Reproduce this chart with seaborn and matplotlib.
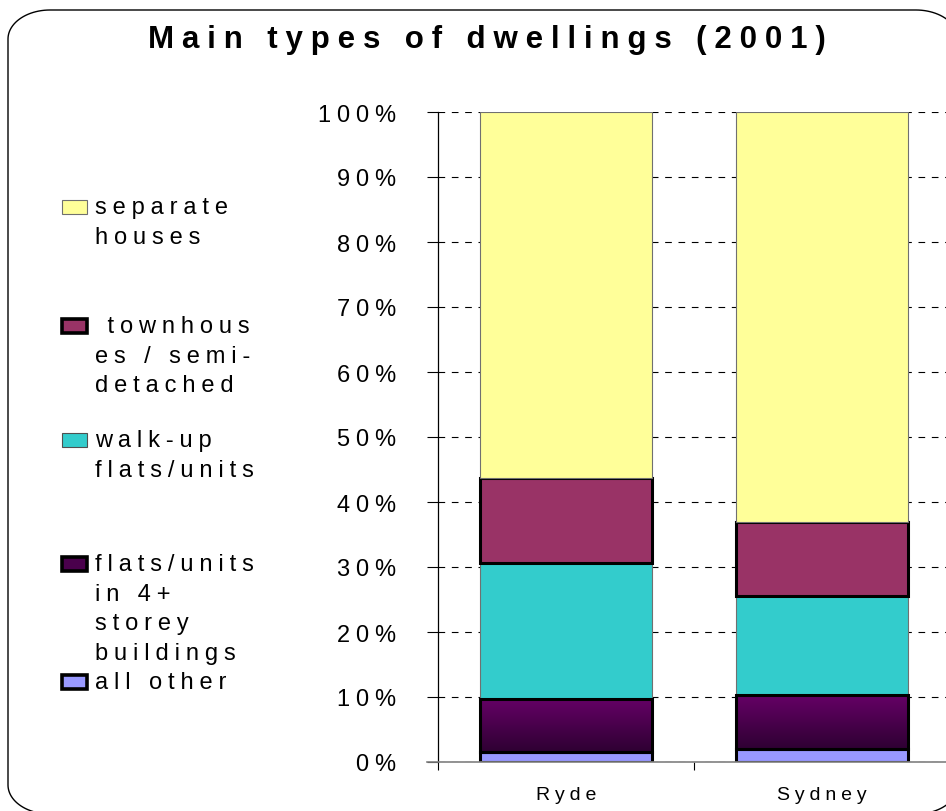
import numpy as np
import pandas as pd
import matplotlib
matplotlib.use("Agg")
import matplotlib.pyplot as plt
from matplotlib.patches import Polygon, Rectangle
from matplotlib.transforms import IdentityTransform
import seaborn as sns

# Dwelling mix, percent of all dwellings (2001)
areas = ["Ryde", "Sydney"]
separate_houses = [56.3, 63.1]
townhouses = [13.1, 11.4]
walkup_flats = [20.9, 15.2]
highrise_flats = [8.2, 8.3]
all_other = [1.5, 2.0]
ytick_values = [0, 10, 20, 30, 40, 50, 60, 70, 80, 90, 100]

sns.set_theme(style="white", rc={"text.color": "black",
                                 "xtick.color": "black",
                                 "ytick.color": "black"})
plt.rcParams["font.family"] = ["Liberation Sans", "DejaVu Sans"]

SP = "\u2005"


def spaced(s):
    """Open up character spacing the way the title and labels are set."""
    return SP.join(s)


# stacking order from the bottom up
layers = [
    ("all other", all_other, "#9999FF", "black", 2.2),
    ("flats/units in 4+ storey buildings", highrise_flats, "#4A004C", "black", 2.2),
    ("walk-up flats/units", walkup_flats, "#33CCCC", "#707070", 0.8),
    ("townhouses / semi-detached", townhouses, "#993366", "black", 2.2),
    ("separate houses", separate_houses, "#FFFF99", "#707070", 0.8),
]

frames = []
bottom = np.zeros(len(areas))
for name, vals, *_ in layers:
    frames.append(pd.DataFrame({"area": areas, "layer": name,
                                "value": vals, "bottom": bottom.copy()}))
    bottom = bottom + np.array(vals)
df = pd.concat(frames, ignore_index=True)

fig = plt.figure(figsize=(9.46, 8.12), dpi=100)
ax = fig.add_axes([438 / 946, 1 - 763 / 812, 512 / 946, 650 / 812])

gradient_patches = []
for name, vals, color, ec, lw in layers:
    sub = df[df["layer"] == name]
    n_before = len(ax.patches)
    sns.barplot(data=sub, x="area", y="value", bottom=sub["bottom"].to_numpy(),
                order=areas, color=color, saturation=1, width=0.67,
                edgecolor=ec, linewidth=lw, ax=ax, zorder=3)
    if name.startswith("flats/units in 4+"):
        gradient_patches = ax.patches[n_before:]

# vertical shading on the high-rise flats segments
grad = np.linspace(0, 1, 256).reshape(-1, 1)
cmap = matplotlib.colors.LinearSegmentedColormap.from_list(
    "purple_shade", ["#2E0032", "#650066"])
for p in gradient_patches:
    x0, y0 = p.get_x(), p.get_y()
    w, h = p.get_width(), p.get_height()
    im = ax.imshow(grad, cmap=cmap, aspect="auto", origin="lower",
                   extent=[x0, x0 + w, y0, y0 + h], zorder=3.5)
    im.set_clip_path(p)
    p.set_facecolor("none")
    p.set_zorder(4)

ax.set_xlim(-0.5, 1.5)
ax.set_ylim(0, 100)
ax.set_yticks(ytick_values)
ax.set_yticklabels([spaced(f"{v}%") for v in ytick_values], fontsize=17)
ax.set_xticks(range(len(areas)))
ax.set_xticklabels([spaced(a) for a in areas], fontsize=14)
ax.set_xticks([-0.5, 0.5, 1.5], minor=True)
ax.tick_params(axis="y", which="major", direction="out", length=8,
               width=0.8, color="black", left=True, pad=22)
ax.tick_params(axis="x", which="major", length=0, pad=17)
ax.tick_params(axis="x", which="minor", direction="out", length=6,
               width=0.8, color="black", bottom=True)
ax.set_xlabel("")
ax.set_ylabel("")

ax.yaxis.grid(True, linestyle=(0, (6, 6)), color="black", linewidth=0.8, zorder=0)
ax.set_axisbelow(True)
for s in ["top", "right"]:
    ax.spines[s].set_visible(False)
ax.spines["left"].set_color("black")
ax.spines["left"].set_linewidth(0.9)
ax.spines["bottom"].set_color("#808080")
ax.spines["bottom"].set_linewidth(1.2)
ax.spines["bottom"].set_zorder(5)
ax.spines["bottom"].set_bounds(-0.5 - 11 / 256, 1.5)

# title
fig.text(487 / 946, 1 - 40 / 812, spaced("Main types of dwellings (2001)"),
         ha="center", va="center", fontsize=22.5, fontweight="bold")

# legend, built by hand on the left side
legend_entries = [
    (208, ["separate", "houses"], "#FFFF99", "#707070", 0.8),
    (327, [" townhous", "es / semi-", "detached"], "#993366", "black", 2.6),
    (441, ["walk-up", "flats/units"], "#33CCCC", "#505050", 0.8),
    (565, ["flats/units", "in 4+", "storey", "buildings"], "#4A004C", "black", 2.6),
    (683, ["all other"], "#9999FF", "black", 2.6),
]
line_gap = 29.7
for yc, lines, fc, ec, lw in legend_entries:
    fig.patches.append(Rectangle((62 / 946, 1 - (yc + 7) / 812), 25 / 946, 14 / 812,
                                 transform=fig.transFigure, facecolor=fc,
                                 edgecolor=ec, linewidth=lw))
    for i, line in enumerate(lines):
        fig.text(95 / 946, 1 - (yc + i * line_gap) / 812, spaced(line),
                 ha="left", va="center", fontsize=17)


def rounded_frame(left, bottom, right, top, rx, ry, n=24):
    """Outline of a rectangle with elliptical corners, in pixel units."""
    pts = []
    corners = [(right - rx, top - ry, 0.0), (left + rx, top - ry, 0.5 * np.pi),
               (left + rx, bottom + ry, np.pi), (right - rx, bottom + ry, 1.5 * np.pi)]
    for cx, cy, start in corners:
        t = np.linspace(start, start + 0.5 * np.pi, n)
        pts.extend(zip(cx + rx * np.cos(t), cy + ry * np.sin(t)))
    return np.array(pts)


fig.patches.append(Polygon(rounded_frame(8, -3, 958, 801, 42, 29), closed=True,
                           transform=IdentityTransform(), facecolor="none",
                           edgecolor="black", linewidth=1.0))

fig.savefig("out.png", dpi=100)
